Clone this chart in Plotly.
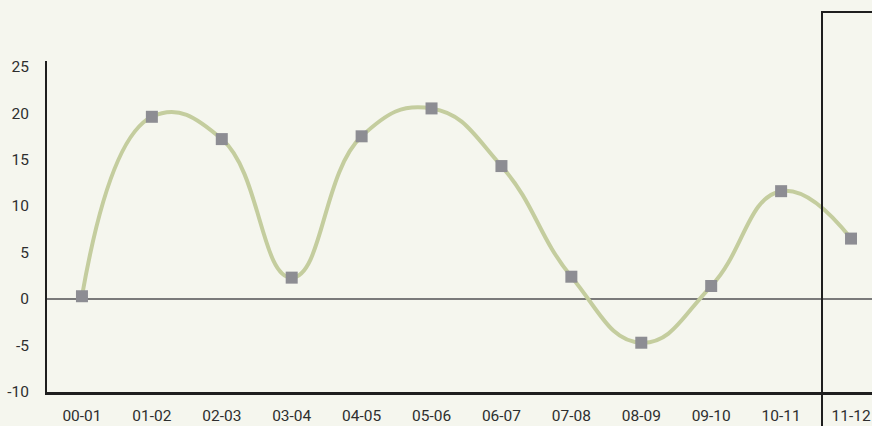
import plotly.graph_objects as go

# Season labels and the year-on-year change for each
seasons = ["00-01", "01-02", "02-03", "03-04", "04-05", "05-06",
           "06-07", "07-08", "08-09", "09-10", "10-11", "11-12"]
change = [0.3, 19.6, 17.2, 2.3, 17.5, 20.5, 14.3, 2.4, -4.7, 1.4, 11.6, 6.5]

y_ticks = [-10, -5, 0, 5, 10, 15, 20, 25]

BG = "#f5f6ee"
FONT = "Roboto, Open Sans, sans-serif"
TEXT = "#2e2e2e"
SIZE = 15.5

fig = go.Figure()

fig.add_trace(go.Scatter(
    x=seasons,
    y=change,
    mode="lines+markers",
    line=dict(color="#c4cd9e", width=4, shape="spline", smoothing=1.3),
    marker=dict(symbol="square", size=12, color="#8d8d93"),
    showlegend=False,
    hoverinfo="x+y",
))

# Box highlighting the latest season
fig.add_shape(
    type="rect", xref="paper", yref="paper",
    x0=0.9394, x1=1.2, y0=-0.2, y1=1.148,
    line=dict(color="#1e1e1e", width=2),
    fillcolor="rgba(0,0,0,0)",
    layer="above",
)

fig.update_layout(
    width=872, height=426,
    margin=dict(l=47, r=0, t=61, b=34),
    paper_bgcolor=BG,
    plot_bgcolor=BG,
    font=dict(family=FONT, size=SIZE, color=TEXT),
    xaxis=dict(
        type="category",
        range=[-0.5, 11.3],
        showgrid=False,
        zeroline=False,
        showline=True,
        linecolor="#1e1e1e",
        linewidth=3,
        ticks="",
        ticklabelstandoff=7,
        tickfont=dict(family=FONT, size=SIZE, color=TEXT),
    ),
    yaxis=dict(
        range=[-10, 25.6],
        tickvals=y_ticks,
        ticktext=[str(v) for v in y_ticks],
        showgrid=False,
        zeroline=True,
        zerolinecolor="#7a7a7a",
        zerolinewidth=1.5,
        showline=True,
        linecolor="#1e1e1e",
        linewidth=2,
        ticks="",
        ticklabelstandoff=13,
        tickfont=dict(family=FONT, size=SIZE, color=TEXT),
    ),
)

fig.write_html("out.html")
